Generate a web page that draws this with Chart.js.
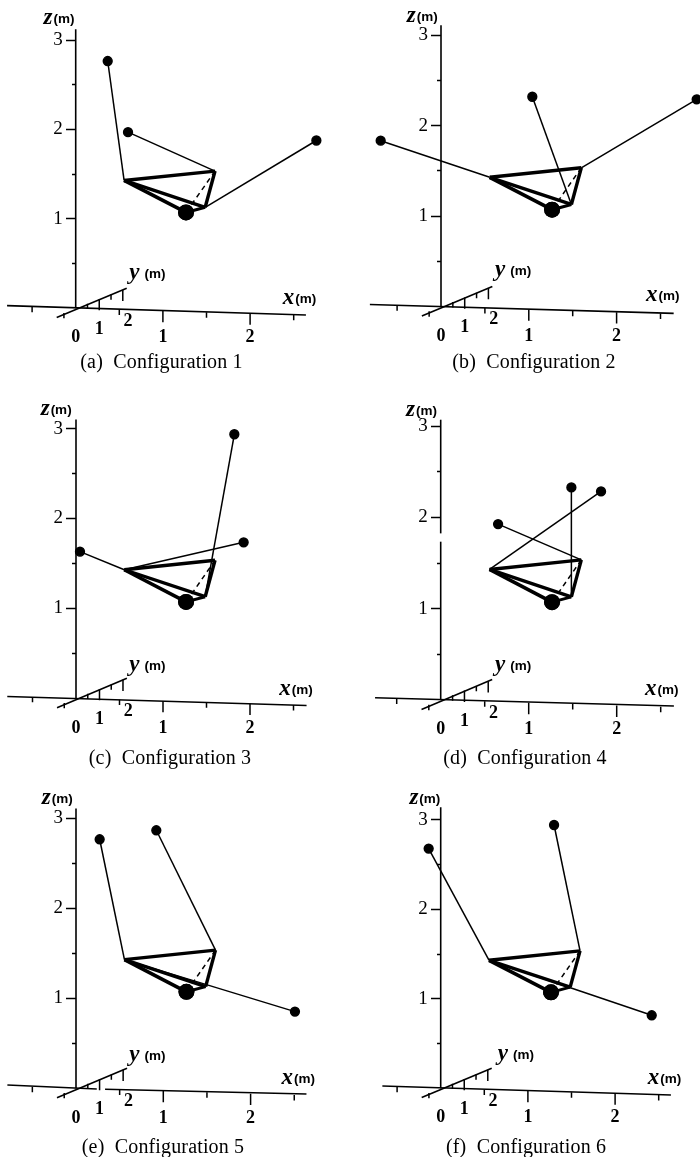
<!DOCTYPE html>
<html>
<head>
<meta charset="utf-8">
<title>Configurations</title>
<script src="https://cdn.jsdelivr.net/npm/chart.js@4"></script>
<style>
  html, body { margin: 0; padding: 0; background: #fff; }
  #page { position: relative; width: 700px; height: 1157px; overflow: hidden; }
  #page canvas { position: absolute; }
  .cap { position: absolute; width: 300px; text-align: center; font: 20px "Liberation Serif", serif; line-height: 22px; letter-spacing: 0.15px; color: #000; white-space: pre; }
</style>
</head>
<body>
<div id="page"></div>
<script>
// x and z in metres as drawn on the page
const captions = ['(a)  Configuration 1','(b)  Configuration 2','(c)  Configuration 3','(d)  Configuration 4','(e)  Configuration 5','(f)  Configuration 6'];

// body corners, same in every panel
const cornerA = [0.555, 1.43];
const cornerB = [1.598, 1.535];
const cornerC = [1.485, 1.13];
const massPoint = [1.265, 1.072];

// cable tips and the corner each one runs to
const tips1 = [[0.367,2.766],[0.60,1.97],[2.76,1.877]];
const tips2 = [[-0.687,1.834],[1.04,2.32],[2.912,2.291]];
const tips3 = [[0.046,1.631],[1.82,2.937],[1.927,1.735]];
const tips4 = [[1.485,2.328],[1.822,2.285],[0.652,1.927]];
const tips5 = [[0.271,2.767],[0.92,2.867],[2.508,0.852]];
const tips6 = [[-0.138,2.678],[1.30,2.942],[2.42,0.816]];
const anchors1 = ['A','B','C'];
const anchors2 = ['A','C','B'];
const anchors3 = ['A','C','A'];
const anchors4 = ['C','A','B'];
const anchors5 = ['A','B','A'];
const anchors6 = ['A','B','A'];

// axis ticks
const zMajor = [1, 2, 3];
const zMinor = [0.5, 1.5, 2.5];
const xMajor = [0, 1, 2];
const xMinorMarks = [-0.5, 0.5, 1.5, 2.5];
const xMajorMarks = [1, 2];
const depthMajor = [1, 2];
const depthMinor = [-0.5, 0.5, 1.5];
const depthLabels = ['1', '2'];

// axis line ends per panel
const xAxisLeft = [[-0.787,0.03],[-0.81,0.025],[-0.79,0.02],[-0.746,0.025],[-0.786,0.037],[-0.669,0.026]];
const xAxisRight = [[2.64,-0.075],[2.65,-0.074],[2.65,-0.08],[2.65,-0.066],[2.64,-0.063],[2.64,-0.075]];
const zAxisTop = [3.12, 3.11, 3.10, 3.07, 3.11, 3.14];
// gaps in the printed axis lines
const zAxisGap = [null, null, null, [1.734,1.825], null, null];
const xAxisGap = [null, null, null, null, [0.238,0.333], null];
const depthStart = [-0.218,-0.104];
const depthEnd = [0.585,0.224];

// axis name spots per panel
const xNameSpot = [[2.374,0.043],[2.335,0.061],[2.337,0.036],[2.322,0.053],[2.355,0.043],[2.374,0.043]];
const yNameSpot = [[0.615,0.325],[0.615,0.339],[0.613,0.304],[0.617,0.318],[0.611,0.304],[0.654,0.317]];
const zNameSpot = [[-0.37,3.18],[-0.39,3.147],[-0.406,3.15],[-0.394,3.11],[-0.393,3.154],[-0.359,3.176]];

// panel placement
const panelLeft = [0, 350, 0, 350, 0, 350];
const panelTop = [0, 0, 390, 390, 780, 780];
const panelH = [390, 390, 390, 390, 377, 377];
const originX = [75.7, 91, 76, 90.7, 76, 90.7];
const originY = [308.3, 306.7, 308.3, 310, 308.3, 308.3];
const unitX = [87.2, 87.8, 87, 88, 87.3, 87.2];
const unitZ = [89.4, 90.5, 89.9, 91.3, 90, 89.5];
const capCenter = [161.5, 534, 170, 525, 163, 526];
const capBaseline = [366, 366, 762, 762, 1151, 1151];

const allTips = [tips1, tips2, tips3, tips4, tips5, tips6];
const allAnchors = [anchors1, anchors2, anchors3, anchors4, anchors5, anchors6];
const corners = { A: cornerA, B: cornerB, C: cornerC };

const xTilt = -0.03;
const depthDir = [0.27, 0.103];

const seg = (a, b, width, dash) => ({
  data: [{ x: a[0], y: a[1] }, { x: b[0], y: b[1] }],
  showLine: true, borderColor: '#000', borderWidth: width, borderDash: dash || [],
  pointRadius: 0, backgroundColor: '#000', clip: false
});

const page = document.getElementById('page');

captions.forEach((cap, i) => {
  const W = 350, H = panelH[i];
  const canvas = document.createElement('canvas');
  canvas.width = W; canvas.height = H;
  canvas.style.left = panelLeft[i] + 'px';
  canvas.style.top = panelTop[i] + 'px';
  page.appendChild(canvas);

  const div = document.createElement('div');
  div.className = 'cap';
  div.textContent = cap;
  div.style.left = (capCenter[i] - 150) + 'px';
  div.style.top = (capBaseline[i] - 16) + 'px';
  page.appendChild(div);

  const ds = [];
  // axes
  const gapZ = zAxisGap[i];
  if (gapZ) {
    ds.push(seg([0,0],[0,gapZ[0]],1.6), seg([0,gapZ[1]],[0,zAxisTop[i]],1.6));
  } else {
    ds.push(seg([0,0],[0,zAxisTop[i]],1.6));
  }
  const gapX = xAxisGap[i];
  if (gapX) {
    ds.push(seg(xAxisLeft[i],[gapX[0],xTilt*gapX[0]],1.6), seg([gapX[1],xTilt*gapX[1]],xAxisRight[i],1.6));
  } else {
    ds.push(seg(xAxisLeft[i],xAxisRight[i],1.6));
  }
  ds.push(seg(depthStart,depthEnd,1.6));
  xMajorMarks.forEach(v => ds.push(seg([v,xTilt*v],[v,xTilt*v-0.125],1.5)));
  xMinorMarks.forEach(v => ds.push(seg([v,xTilt*v],[v,xTilt*v-0.06],1.5)));
  depthMajor.forEach(t => ds.push(seg([t*depthDir[0],t*depthDir[1]],[t*depthDir[0],t*depthDir[1]-0.125],1.5)));
  depthMinor.forEach(t => ds.push(seg([t*depthDir[0],t*depthDir[1]],[t*depthDir[0],t*depthDir[1]-0.06],1.5)));

  // body
  ds.push(seg(cornerB,massPoint,1.5,[5,4]));
  ds.push(seg(cornerA,cornerB,3.4));
  ds.push(seg(cornerA,cornerC,3.4));
  ds.push(seg(cornerA,massPoint,3.6));
  ds.push(seg(cornerB,cornerC,3.4));
  ds.push(seg(cornerC,massPoint,3));

  // cables
  allTips[i].forEach((tip, k) => {
    const d = seg(tip, corners[allAnchors[i][k]], 1.5);
    d.pointRadius = [4.4, 0];
    ds.push(d);
  });
  const mass = seg(massPoint, massPoint, 0);
  mass.pointRadius = 8;
  ds.push(mass);

  const xMin = -originX[i] / unitX[i], xMax = (W - originX[i]) / unitX[i];
  const zMin = (originY[i] - H) / unitZ[i], zMax = originY[i] / unitZ[i];

  const flatten = s => { s.width = 0; s.height = 0; s.paddingLeft = s.paddingRight = s.paddingTop = s.paddingBottom = 0; };

  const names = {
    id: 'axisNames',
    afterDraw(c) {
      const g = c.ctx, sx = c.scales.x, sz = c.scales.y;
      g.save();
      g.fillStyle = '#000';
      g.textBaseline = 'alphabetic';
      g.textAlign = 'left';
      [['x', xNameSpot[i], 1], ['y', yNameSpot[i], 5], ['z', zNameSpot[i], 1]].forEach(([n, p, gap]) => {
        const px = sx.getPixelForValue(p[0]), py = sz.getPixelForValue(p[1]);
        g.font = 'italic bold 23px "Liberation Serif"';
        g.fillText(n, px, py);
        const w = g.measureText(n).width;
        g.font = 'bold 13.5px "Liberation Sans"';
        g.fillText('(m)', px + w + gap, py - 1);
      });
      g.font = 'bold 18px "Liberation Serif"';
      g.textAlign = 'center';
      depthMajor.forEach((t, k) => {
        const spot = [t * depthDir[0] + (k ? 0.06 : 0), k ? -0.13 : -0.215];
        g.fillText(depthLabels[k], sx.getPixelForValue(spot[0]), sz.getPixelForValue(spot[1]) + 6);
      });
      g.restore();
    }
  };

  new Chart(canvas.getContext('2d'), {
    type: 'scatter',
    data: { datasets: ds },
    plugins: [names],
    options: {
      responsive: false,
      animation: false,
      events: [],
      layout: { padding: 0, autoPadding: false },
      plugins: { legend: { display: false }, tooltip: { enabled: false }, title: { display: false } },
      scales: {
        x: {
          type: 'linear', min: xMin, max: xMax,
          position: { y: -0.12 },
          afterBuildTicks: s => { s.ticks = xMajor.map(v => ({ value: v })); },
          afterFit: flatten,
          border: { display: false },
          grid: { display: false },
          ticks: { color: '#000', font: { family: '"Liberation Serif"', size: 18, weight: 'bold' }, padding: 0, maxRotation: 0, autoSkip: false, callback: v => v }
        },
        y: {
          type: 'linear', min: zMin, max: zMax,
          position: { x: 0 },
          afterBuildTicks: s => { s.ticks = zMajor.map(v => ({ value: v })); },
          afterFit: flatten,
          border: { display: false },
          grid: { drawOnChartArea: false, drawTicks: true, tickLength: 10, tickColor: '#000', tickWidth: 1.5 },
          ticks: { display: false }
        },
        y2: {
          type: 'linear', min: zMin, max: zMax,
          position: { x: 0 },
          afterBuildTicks: s => { s.ticks = zMinor.map(v => ({ value: v })); },
          afterFit: flatten,
          border: { display: false },
          grid: { drawOnChartArea: false, drawTicks: true, tickLength: 4, tickColor: '#000', tickWidth: 1.5 },
          ticks: { display: false }
        },
        // carries the z numbers just left of the tick marks
        y3: {
          type: 'linear', min: zMin, max: zMax,
          position: { x: -13 / unitX[i] },
          afterBuildTicks: s => { s.ticks = zMajor.map(v => ({ value: v })); },
          afterFit: flatten,
          border: { display: false },
          grid: { display: false },
          ticks: { color: '#000', font: { family: '"Liberation Serif"', size: 19 }, padding: 0, autoSkip: false, callback: v => v }
        }
      }
    }
  });
});
</script>
</body>
</html>
